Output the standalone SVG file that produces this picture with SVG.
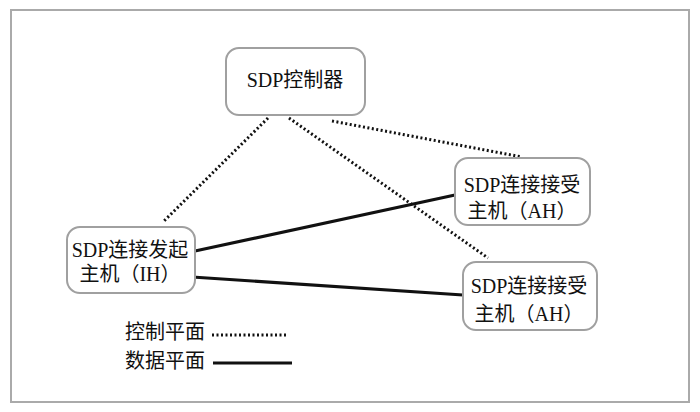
<svg xmlns="http://www.w3.org/2000/svg" width="700" height="412" viewBox="0 0 700 412">
<style>
.box{fill:#fff;stroke:#a0a0a0;stroke-width:2}
.t{font-family:"Liberation Serif","Noto Sans CJK SC",serif;font-size:20px;fill:#111;text-anchor:middle}
.lt{font-family:"Liberation Serif","Noto Sans CJK SC",serif;font-size:20px;fill:#111}
.dot{stroke:#111;stroke-width:3;stroke-dasharray:2 2.5;fill:none}
.sol{stroke:#111;stroke-width:3.2;fill:none}
</style>
<rect x="0" y="0" width="700" height="412" fill="#fff"/>
<rect x="11" y="10" width="678" height="392" fill="none" stroke="#aaa" stroke-width="2"/>
<g id="connectors">
<line class="dot" x1="268" y1="118" x2="163" y2="222"/>
<line class="dot" x1="289" y1="118" x2="488" y2="258"/>
<line class="dot" x1="332" y1="121" x2="522" y2="157"/>
<line class="sol" x1="195" y1="251" x2="455" y2="195"/>
<line class="sol" x1="192" y1="277" x2="463" y2="295"/>
</g>
<g id="controller">
<rect class="box" x="226" y="48" width="139" height="67" rx="13"/>
<text class="t" x="295" y="87">SDP控制器</text>
</g>
<g id="ih">
<rect class="box" x="67" y="227" width="128" height="66" rx="13"/>
<text class="t" x="130" y="257">SDP连接发起</text>
<text class="t" x="130" y="281">主机（IH）</text>
</g>
<g id="ah1">
<rect class="box" x="455" y="158" width="135" height="67" rx="13"/>
<text class="t" x="522" y="192">SDP连接接受</text>
<text class="t" x="522" y="218">主机（AH）</text>
</g>
<g id="ah2">
<rect class="box" x="463" y="262" width="134" height="68" rx="13"/>
<text class="t" x="529" y="293">SDP连接接受</text>
<text class="t" x="529" y="321">主机（AH）</text>
</g>
<g id="legend">
<text class="lt" x="125" y="339">控制平面</text>
<line class="dot" x1="212" y1="335" x2="288" y2="335"/>
<text class="lt" x="125" y="368">数据平面</text>
<line class="sol" x1="213" y1="363" x2="292" y2="363"/>
</g>
</svg>
